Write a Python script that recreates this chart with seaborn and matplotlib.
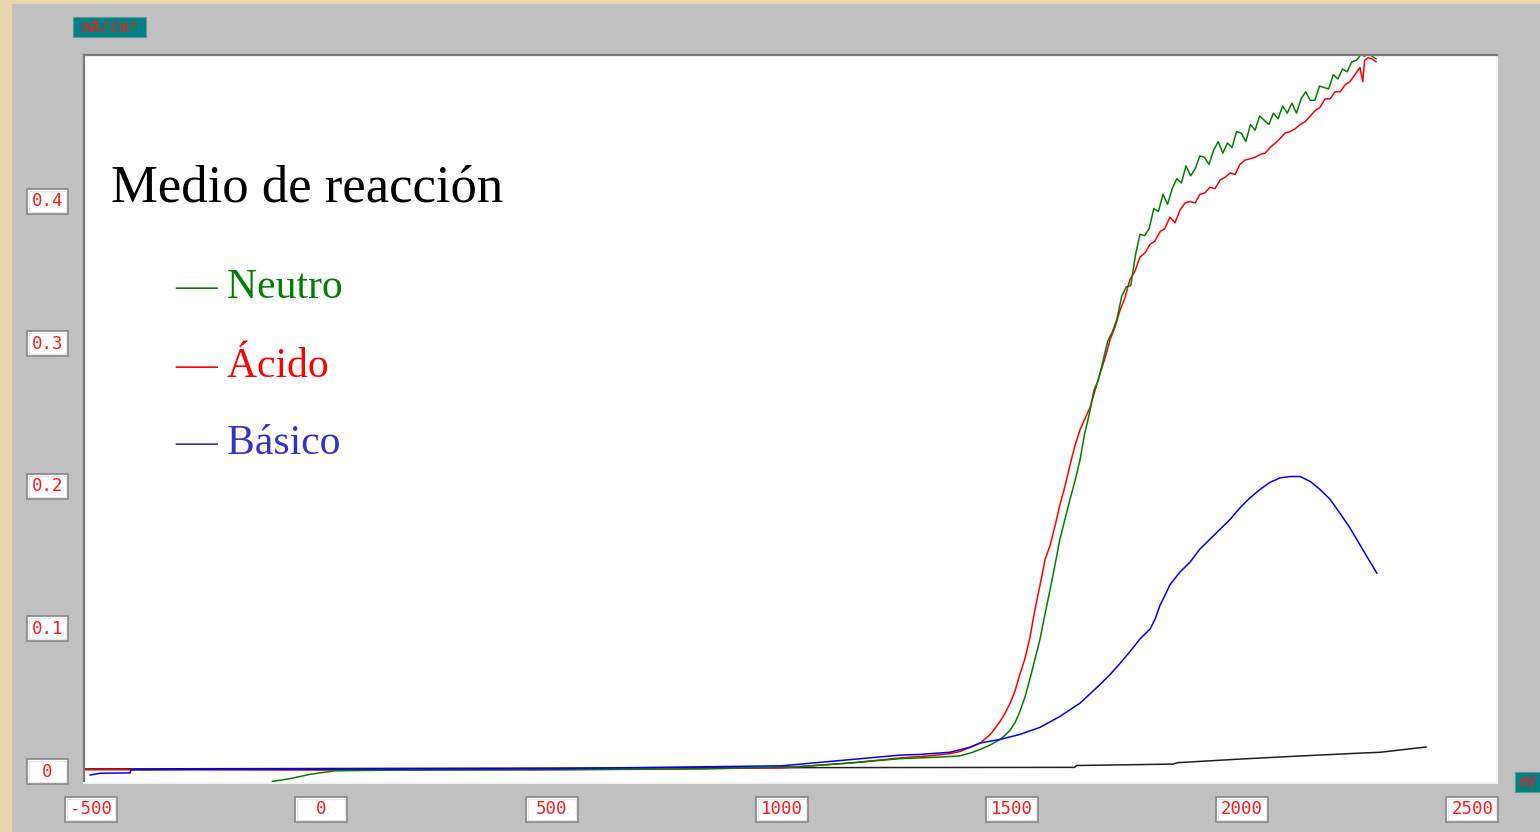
import numpy as np
import pandas as pd
import matplotlib
matplotlib.use("Agg")
import matplotlib.pyplot as plt
import matplotlib.transforms as mtrans
from matplotlib.patches import Rectangle
import seaborn as sns

# ---- data: potential (mV) vs current density (mA/cm2) ----
blanco_mv = [-516, 1000, 1636, 1640, 1850, 1860, 2000, 2120, 2250, 2300, 2400]
blanco_i = [0.0018, 0.0027, 0.0029, 0.0042, 0.0052, 0.0062, 0.0088, 0.0108, 0.0128, 0.0135, 0.0172]

neutro_mv = [-107, -68, -25, 29, 170, 388, 605, 822, 1039, 1150, 1257, 1320, 1365, 1387,
             1410, 1431, 1452, 1474, 1485, 1496, 1507, 1517, 1528, 1539, 1550, 1561, 1572,
             1583, 1594, 1604, 1615, 1626, 1637, 1648, 1658, 1668, 1678, 1688, 1698, 1708,
             1718, 1728, 1738, 1748, 1758, 1768, 1778, 1788, 1798, 1808, 1818, 1828, 1838,
             1848, 1858, 1868, 1878, 1888, 1898, 1908, 1918, 1928, 1938, 1948, 1958, 1968,
             1978, 1988, 1998, 2008, 2018, 2028, 2038, 2048, 2058, 2068, 2078, 2088, 2098,
             2108, 2118, 2128, 2138, 2148, 2158, 2168, 2178, 2188, 2198, 2208, 2218, 2228,
             2238, 2248, 2258, 2266, 2274, 2282, 2291]
neutro_i = [-0.0070, -0.0050, -0.0020, 0.0005, 0.0010, 0.0013, 0.0014, 0.0018, 0.0035, 0.0060,
            0.0090, 0.0098, 0.0105, 0.0110, 0.0130, 0.0155, 0.0185, 0.0225, 0.0255, 0.0290,
            0.0345, 0.0420, 0.0520, 0.0650, 0.0790, 0.0930, 0.1110, 0.1280, 0.1460, 0.1630,
            0.1770, 0.1910, 0.2040, 0.2190, 0.2375, 0.2510, 0.2675, 0.2750, 0.2885, 0.3020,
            0.3085, 0.3175, 0.3330, 0.3400, 0.3410, 0.3620, 0.3770, 0.3760, 0.3810, 0.3950,
            0.3930, 0.4050, 0.3980, 0.4090, 0.4160, 0.4130, 0.4250, 0.4180, 0.4230, 0.4320,
            0.4310, 0.4260, 0.4360, 0.4420, 0.4340, 0.4410, 0.4380, 0.4490, 0.4480, 0.4420,
            0.4540, 0.4500, 0.4600, 0.4570, 0.4540, 0.4620, 0.4580, 0.4670, 0.4620, 0.4690,
            0.4620, 0.4720, 0.4770, 0.4710, 0.4710, 0.4810, 0.4800, 0.4790, 0.4890, 0.4860,
            0.4930, 0.4910, 0.4980, 0.4990, 0.5030, 0.5020, 0.5040, 0.5020, 0.5000]

acido_mv = [-516, -280, 0, 500, 1000, 1150, 1257, 1320, 1365, 1387, 1409, 1431, 1453, 1474,
            1485, 1496, 1507, 1517, 1528, 1539, 1550, 1561, 1572, 1583, 1594, 1604, 1615,
            1626, 1637, 1648, 1659, 1669, 1680, 1691, 1702, 1713, 1724, 1735, 1745, 1756,
            1767, 1778, 1789, 1800, 1810, 1822, 1832, 1843, 1854, 1865, 1876, 1887, 1898,
            1908, 1919, 1930, 1941, 1952, 1963, 1974, 1985, 1995, 2006, 2017, 2028, 2039,
            2050, 2061, 2072, 2082, 2093, 2104, 2115, 2126, 2137, 2148, 2159, 2169, 2180,
            2191, 2202, 2213, 2224, 2234, 2245, 2256, 2262, 2266, 2274, 2282, 2291]
acido_i = [0.0012, 0.0012, 0.0010, 0.0012, 0.0025, 0.0060, 0.0095, 0.0110, 0.0125, 0.0140,
           0.0170, 0.0200, 0.0260, 0.0350, 0.0410, 0.0480, 0.0570, 0.0680, 0.0790, 0.0940,
           0.1140, 0.1310, 0.1490, 0.1590, 0.1730, 0.1870, 0.2000, 0.2150, 0.2290, 0.2400,
           0.2480, 0.2550, 0.2670, 0.2790, 0.2900, 0.3030, 0.3120, 0.3240, 0.3320, 0.3450,
           0.3510, 0.3610, 0.3640, 0.3700, 0.3720, 0.3790, 0.3810, 0.3890, 0.3850, 0.3940,
           0.3990, 0.4000, 0.3990, 0.4050, 0.4060, 0.4100, 0.4090, 0.4150, 0.4170, 0.4200,
           0.4190, 0.4260, 0.4290, 0.4300, 0.4310, 0.4330, 0.4340, 0.4380, 0.4410, 0.4440,
           0.4480, 0.4490, 0.4510, 0.4540, 0.4560, 0.4600, 0.4640, 0.4660, 0.4720, 0.4720,
           0.4770, 0.4770, 0.4820, 0.4840, 0.4890, 0.4940, 0.4840, 0.4990, 0.5010, 0.5000,
           0.4980]

basico_mv = [-503, -480, -416, -414, -285, 0, 500, 1000, 1257, 1300, 1365, 1409, 1431, 1474,
             1517, 1561, 1604, 1648, 1691, 1713, 1735, 1756, 1778, 1800, 1811, 1822, 1833,
             1843, 1865, 1887, 1908, 1930, 1952, 1974, 1995, 2017, 2039, 2061, 2082, 2104,
             2126, 2148, 2169, 2191, 2213, 2234, 2256, 2278, 2293]
basico_i = [-0.0025, -0.0012, -0.0010, 0.0012, 0.0015, 0.0016, 0.0020, 0.0040, 0.0115, 0.0120,
            0.0135, 0.0170, 0.0200, 0.0225, 0.0260, 0.0310, 0.0386, 0.0480, 0.0610, 0.0680,
            0.0760, 0.0840, 0.0930, 0.1000, 0.1070, 0.1170, 0.1240, 0.1310, 0.1400, 0.1470,
            0.1560, 0.1630, 0.1700, 0.1770, 0.1850, 0.1920, 0.1980, 0.2030, 0.2060, 0.2070,
            0.2070, 0.2035, 0.1980, 0.1910, 0.1810, 0.1710, 0.1590, 0.1470, 0.1390]

series_names = ["Blanco", "Ácido", "Neutro", "Básico"]
series_colors = ["#202020", "#FF0000", "#008000", "#0000FF"]
legend_names = ["Neutro", "Ácido", "Básico"]
legend_colors = ["#008000", "#FF0000", "#3333CC"]

x_ticks = [-500, 0, 500, 1000, 1500, 2000, 2500]
y_ticks = [0.0, 0.1, 0.2, 0.3, 0.4]
y_tick_labels = ["0", "0.1", "0.2", "0.3", "0.4"]

df = pd.concat([
    pd.DataFrame({"mV": blanco_mv, "i": blanco_i, "medio": "Blanco"}),
    pd.DataFrame({"mV": acido_mv, "i": acido_i, "medio": "Ácido"}),
    pd.DataFrame({"mV": neutro_mv, "i": neutro_i, "medio": "Neutro"}),
    pd.DataFrame({"mV": basico_mv, "i": basico_i, "medio": "Básico"}),
], ignore_index=True)

# ---- figure layout (pixel based, 100 dpi) ----
W, H = 1540, 832
DPI = 100
sns.set_style("white")
plt.rcParams["font.family"] = ["DejaVu Sans"]

fig = plt.figure(figsize=(W / DPI, H / DPI), dpi=DPI)
fig.patch.set_facecolor("#EAD6AC")

# grey panel behind the plot
fig.patches.append(Rectangle((12 / W, 0), 1 - 12 / W, 1 - 4 / H, transform=fig.transFigure,
                             facecolor="#C0C0C0", edgecolor="none", zorder=-5))

ax_l, ax_r, ax_t, ax_b = 84, 1497, 55, 783
ax = fig.add_axes([ax_l / W, 1 - ax_b / H, (ax_r - ax_l) / W, (ax_b - ax_t) / H])
ax.set_zorder(1)
ax.set_facecolor("white")

sns.lineplot(data=df, x="mV", y="i", hue="medio", hue_order=series_names,
             palette=series_colors, sort=False, estimator=None, legend=False,
             linewidth=1.1, ax=ax)

ax.set_xlim(-515.9, 2553.6)
ax.set_ylim(-0.00807, 0.5028)
ax.set_xlabel("")
ax.set_ylabel("")
ax.set_xticks([])
ax.set_yticks([])

for side in ["left", "top"]:
    ax.spines[side].set_color("#7A7A7A")
    ax.spines[side].set_linewidth(1.6)
for side in ["right", "bottom"]:
    ax.spines[side].set_color("#F4F4F4")
    ax.spines[side].set_linewidth(1.4)

label_font = dict(family="DejaVu Sans Mono", color="#FF1A1A", fontsize=12.5)


def boxed_label(anchor, text, dx, dy, w, h):
    """Draw a white bevelled box with red text; offsets are in pixels from anchor."""
    tr = mtrans.IdentityTransform() + anchor
    fig.patches.append(Rectangle((dx - w / 2, dy - h / 2), w, h, transform=tr,
                                 facecolor="white", edgecolor="#8C8C8C", linewidth=1.3,
                                 zorder=3))
    fig.patches.append(Rectangle((dx - w / 2 + 2, dy - h / 2 + 2), w - 4, h - 4, transform=tr,
                                 facecolor="none", edgecolor="#E6E6E6", linewidth=0.8,
                                 zorder=3))
    fig.text(dx, dy, text, transform=tr, ha="center", va="center", zorder=4, **label_font)


# x tick labels under the plot
for v in x_ticks:
    anchor = mtrans.ScaledTranslation(v, 0, ax.get_xaxis_transform())
    boxed_label(anchor, str(v), 0, -26.5, 52, 25)

# y tick labels left of the plot
for v, s in zip(y_ticks, y_tick_labels):
    anchor = mtrans.ScaledTranslation(0, v, ax.get_yaxis_transform())
    boxed_label(anchor, s, -36.5, 0, 41, 25)

# axis unit labels in teal boxes
fig.patches.append(Rectangle((73 / W, 1 - 37 / H), 73 / W, 20 / H, transform=fig.transFigure,
                             facecolor="#008080", edgecolor="#5A9A9A", linewidth=0.8, zorder=3))
fig.text(109.5 / W, 1 - 27.5 / H, "mA/cm²", ha="center", va="center", zorder=4,
         family="DejaVu Sans Mono", color="#FF1A1A", fontsize=11.5)
fig.patches.append(Rectangle((1515 / W, 1 - 792 / H), 25 / W, 20 / H, transform=fig.transFigure,
                             facecolor="#008080", edgecolor="#5A9A9A", linewidth=0.8, zorder=3))
fig.text(1527.5 / W, 1 - 782.5 / H, "mV", ha="center", va="center", zorder=4,
         family="DejaVu Sans Mono", color="#FF1A1A", fontsize=10.5)

# title and legend inside the plot
serif = ["Liberation Serif", "DejaVu Serif"]
fig.text(111 / W, 1 - 202 / H, "Medio de reacción", family=serif, fontsize=38,
         color="black", va="baseline", ha="left", zorder=5)
for k, (name, col) in enumerate(zip(legend_names, legend_colors)):
    base = [298, 377, 454][k]
    fig.text(175 / W, 1 - base / H, "— " + name, family=serif, fontsize=30,
             color=col, va="baseline", ha="left", zorder=5)

fig.savefig("out.png", dpi=DPI, facecolor=fig.get_facecolor())
